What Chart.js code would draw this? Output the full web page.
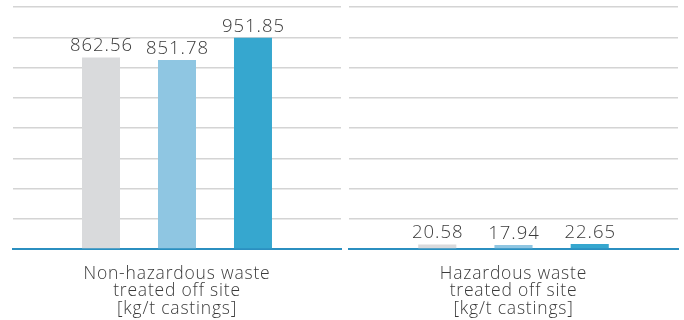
<!DOCTYPE html>
<html>
<head>
<meta charset="utf-8">
<script src="https://cdn.jsdelivr.net/npm/chart.js@4"></script>
<style>
  html, body { margin: 0; padding: 0; background: #fff; }
  .wrap { position: relative; width: 684px; height: 320px; }
  .panel { position: absolute; top: 0; width: 342px; height: 320px; }
</style>
</head>
<body>
<div class="wrap">
  <div class="panel" style="left:0"><canvas id="leftChart" width="342" height="320"></canvas></div>
  <div class="panel" style="left:342px"><canvas id="rightChart" width="342" height="320"></canvas></div>
</div>
<script>
// Waste per tonne of castings, three reporting periods per panel
const seriesNames = ["Period 1", "Period 2", "Period 3"];
const nonHazardousLabel = ["Non-hazardous waste", "treated off site", "[kg/t castings]"];
const hazardousLabel = ["Hazardous waste", "treated off site", "[kg/t castings]"];
const nonHazardousValues = [862.56, 851.78, 951.85];
const hazardousValues = [20.58, 17.94, 22.65];
const axisMax = 1090;

const barColors = ["#d9dadc", "#8fc6e2", "#36a7cf"];
const fontFamily = "'Open Sans', sans-serif";

// Slightly wider tracking for all canvas text
const tracking = {
  id: "tracking",
  beforeLayout(chart) { chart.ctx.letterSpacing = "0.8px"; },
  beforeDraw(chart) { chart.ctx.letterSpacing = "0.8px"; }
};

// Writes each bar's value just above it
const valueLabels = {
  id: "valueLabels",
  afterDatasetsDraw(chart) {
    const ctx = chart.ctx;
    ctx.save();
    ctx.letterSpacing = "1px";
    ctx.font = "300 18.5px " + fontFamily;
    ctx.fillStyle = "#3a3a3a";
    ctx.textAlign = "center";
    ctx.textBaseline = "alphabetic";
    chart.data.datasets.forEach((ds, i) => {
      const bar = chart.getDatasetMeta(i).data[0];
      ctx.fillText(ds.data[0].toFixed(2), bar.x + 0.5, bar.y - 6);
    });
    ctx.restore();
  }
};

function makeChart(id, label, values, padLeft, padRight) {
  return new Chart(document.getElementById(id).getContext("2d"), {
    type: "bar",
    data: {
      labels: [label],
      datasets: values.map((v, i) => ({
        label: seriesNames[i],
        data: [v],
        backgroundColor: barColors[i],
        categoryPercentage: 0.695,
        barPercentage: 0.5
      }))
    },
    options: {
      responsive: false,
      animation: false,
      layout: { padding: { top: 7, left: padLeft, right: padRight, bottom: 0 } },
      plugins: {
        legend: { display: false },
        tooltip: { enabled: false }
      },
      scales: {
        x: {
          grid: { display: false, drawTicks: false },
          border: { display: true, color: "#2b8fc0", width: 2 },
          afterFit(scale) { scale.height = 71; },
          ticks: {
            color: "#3a3a3a",
            padding: 16,
            font: { family: fontFamily, size: 17.5, weight: 300, lineHeight: 1 }
          }
        },
        y: {
          min: 0,
          max: axisMax,
          ticks: { display: false, stepSize: axisMax / 8 },
          grid: { color: "#d4d4d4", lineWidth: 1.5, drawTicks: false },
          border: { display: false }
        }
      }
    },
    plugins: [tracking, valueLabels]
  });
}

makeChart("leftChart", nonHazardousLabel, nonHazardousValues, 13, 1);
makeChart("rightChart", hazardousLabel, hazardousValues, 7, 6);
</script>
</body>
</html>
